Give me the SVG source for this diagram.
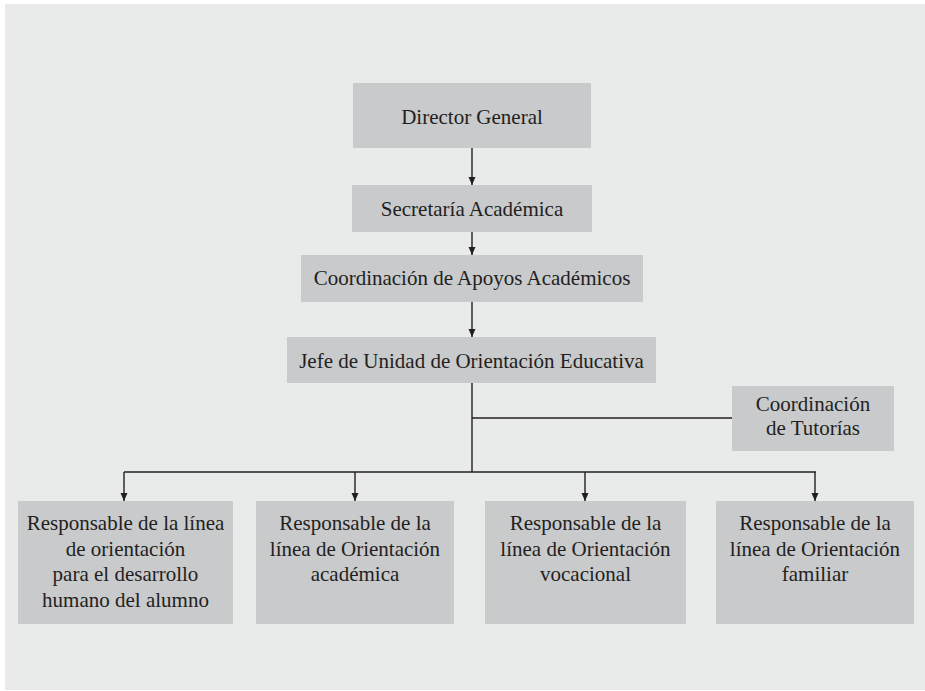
<svg xmlns="http://www.w3.org/2000/svg" width="925" height="691" viewBox="0 0 925 691">
<defs>
<style>
.box{fill:#c9cacc}
.t{font-family:"Liberation Serif","Times New Roman",serif;font-size:21px;fill:#231f20;text-anchor:middle}
.c{stroke:#231f20;stroke-width:1.4;fill:none}
</style>
<marker id="ah" viewBox="0 0 8 10" refX="8" refY="5" markerWidth="8" markerHeight="10" markerUnits="userSpaceOnUse" orient="auto">
<path d="M0,1.5 L8,5 L0,8.5 Z" fill="#231f20"/>
</marker>
</defs>
<rect x="0" y="0" width="925" height="691" fill="#ffffff"/>
<rect x="5" y="4" width="920" height="686" fill="#e9eaea"/>
<g id="connectors">
<line class="c" x1="472" y1="148" x2="472" y2="185" marker-end="url(#ah)"/>
<line class="c" x1="472" y1="232" x2="472" y2="255" marker-end="url(#ah)"/>
<line class="c" x1="472" y1="302" x2="472" y2="337" marker-end="url(#ah)"/>
<line class="c" x1="472" y1="383" x2="472" y2="472"/>
<line class="c" x1="472" y1="418" x2="732" y2="418"/>
<line class="c" x1="124" y1="472" x2="816" y2="472"/>
<line class="c" x1="124" y1="472" x2="124" y2="501" marker-end="url(#ah)"/>
<line class="c" x1="355" y1="472" x2="355" y2="501" marker-end="url(#ah)"/>
<line class="c" x1="585" y1="472" x2="585" y2="501" marker-end="url(#ah)"/>
<line class="c" x1="815" y1="472" x2="815" y2="501" marker-end="url(#ah)"/>
</g>
<g id="director">
<rect class="box" x="353" y="83" width="238" height="65"/>
<text class="t" x="472" y="124">Director General</text>
</g>
<g id="secretaria">
<rect class="box" x="352" y="185" width="240" height="47"/>
<text class="t" x="472" y="216">Secretaría Académica</text>
</g>
<g id="coordinacion-apoyos">
<rect class="box" x="301" y="255" width="342" height="47"/>
<text class="t" x="472" y="285">Coordinación de Apoyos Académicos</text>
</g>
<g id="jefe">
<rect class="box" x="287" y="337" width="369" height="46"/>
<text class="t" x="471.5" y="368">Jefe de Unidad de Orientación Educativa</text>
</g>
<g id="tutorias">
<rect class="box" x="732" y="386" width="162" height="65"/>
<text class="t" x="813" y="411">Coordinación</text>
<text class="t" x="813" y="435">de Tutorías</text>
</g>
<g id="resp-desarrollo">
<rect class="box" x="18" y="501" width="215" height="123"/>
<text class="t" x="125.5" y="530">Responsable de la línea</text>
<text class="t" x="125.5" y="556">de orientación</text>
<text class="t" x="125.5" y="581">para el desarrollo</text>
<text class="t" x="125.5" y="607">humano del alumno</text>
</g>
<g id="resp-academica">
<rect class="box" x="256" y="501" width="198" height="123"/>
<text class="t" x="355" y="530">Responsable de la</text>
<text class="t" x="355" y="556">línea de Orientación</text>
<text class="t" x="355" y="581">académica</text>
</g>
<g id="resp-vocacional">
<rect class="box" x="485" y="501" width="201" height="123"/>
<text class="t" x="585.5" y="530">Responsable de la</text>
<text class="t" x="585.5" y="556">línea de Orientación</text>
<text class="t" x="585.5" y="581">vocacional</text>
</g>
<g id="resp-familiar">
<rect class="box" x="716" y="501" width="198" height="123"/>
<text class="t" x="815" y="530">Responsable de la</text>
<text class="t" x="815" y="556">línea de Orientación</text>
<text class="t" x="815" y="581">familiar</text>
</g>
</svg>
